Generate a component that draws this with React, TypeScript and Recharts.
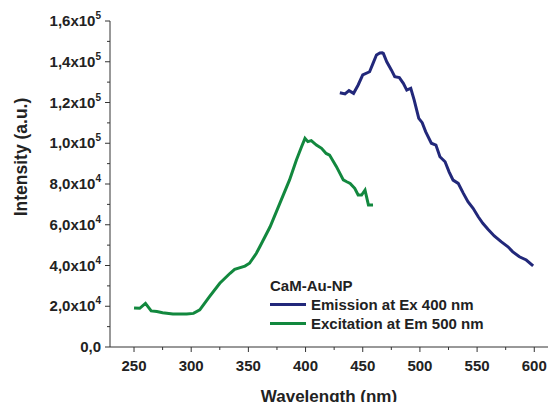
import { LineChart, Line, XAxis, YAxis } from 'recharts'

const FONT = '"Liberation Sans", Arial, sans-serif'
const BLUE = '#22287a'
const GREEN = '#12883e'

// Excitation spectrum (Em 500 nm)
const excitationWavelength = [
  250, 255, 260, 265, 270, 275, 284, 296, 302, 307.5, 316, 325, 334, 338, 347, 351, 357, 360, 369,
  377.5, 386, 392, 396.5, 399.5, 402, 405, 409.5, 414, 418, 421, 427, 433, 436, 439, 443, 446, 449,
  452, 455, 459,
]
const excitationIntensity = [
  19200, 19000, 21400, 17700, 17400, 16800, 16200, 16200, 16500, 18200, 24700, 31300, 36200, 38100,
  39700, 41100, 46000, 49200, 59000, 70500, 82000, 91800, 98300, 102400, 100800, 101300, 99100, 97500,
  95000, 94200, 88500, 82000, 81100, 80300, 77900, 74600, 74600, 77000, 69700, 69700,
]

// Emission spectrum (Ex 400 nm)
const emissionWavelength = [
  430, 434.5, 438, 442, 446, 450, 456, 459, 462, 465, 467, 468, 471, 475, 478, 482, 485.5, 488.5, 492,
  495, 499, 502, 505, 510, 514, 517.5, 522, 525.5, 529, 533.5, 538, 542, 546.5, 551, 555, 559.5, 565,
  571, 577, 581, 587, 593, 599,
]
const emissionIntensity = [
  124800, 124200, 125800, 124500, 128600, 133500, 135100, 139200, 143300, 144300, 144400, 144100,
  140000, 136000, 132700, 132200, 129400, 126100, 127000, 121200, 112200, 110100, 105700, 100000,
  99100, 93400, 90900, 86000, 81900, 80300, 75400, 71300, 68100, 63900, 60700, 57800, 54500, 51700,
  49200, 46800, 44300, 42700, 39800,
]

const xTicks = [250, 275, 300, 325, 350, 375, 400, 425, 450, 475, 500, 525, 550, 575, 600]
const xLabels = [250, 300, 350, 400, 450, 500, 550, 600]
const yTicks = [0, 10000, 20000, 30000, 40000, 50000, 60000, 70000, 80000, 90000, 100000, 110000, 120000, 130000, 140000, 150000, 160000]
const yLabels = [0, 20000, 40000, 60000, 80000, 100000, 120000, 140000, 160000]

const legendTitle = 'CaM-Au-NP'
const seriesNames = ['Emission at Ex 400 nm', 'Excitation at Em 500 nm']

const excitationData = excitationWavelength.map((x, i) => ({ x, y: excitationIntensity[i] }))
const emissionData = emissionWavelength.map((x, i) => ({ x, y: emissionIntensity[i] }))

/** 1,6x10^5 style label parts */
function sciParts(v: number): [string, string] {
  if (v === 0) return ['0,0', '']
  const exp = Math.floor(Math.log10(v))
  const mant = (v / Math.pow(10, exp)).toFixed(1).replace('.', ',')
  return [`${mant}x10`, String(exp)]
}

function XTick({ x, y, payload }: any) {
  const major = xLabels.includes(payload.value)
  return (
    <g>
      <line x1={x} x2={x} y1={y} y2={y + (major ? 5 : 3)} stroke="#333" strokeWidth={1} />
      {major && (
        <text x={x} y={y + 24} textAnchor="middle" fontFamily={FONT} fontWeight="bold" fontSize={15} fill="#222">
          {payload.value}
        </text>
      )}
    </g>
  )
}

function YTick({ x, y, payload }: any) {
  const major = yLabels.includes(payload.value)
  const [mant, exp] = sciParts(payload.value)
  return (
    <g>
      <line x1={x - (major ? 5 : 3)} x2={x} y1={y} y2={y} stroke="#333" strokeWidth={1} />
      {major && (
        <text x={x - 9} y={y + 5} textAnchor="end" fontFamily={FONT} fontWeight="bold" fontSize={15} fill="#222">
          {mant}
          {exp && (
            <tspan dy={-7} fontSize={10}>
              {exp}
            </tspan>
          )}
        </text>
      )}
    </g>
  )
}

// y title sits above the plot centre in the original, so place it by hand
function YTitle() {
  return (
    <text
      x={27}
      y={157}
      transform="rotate(-90 27 157)"
      textAnchor="middle"
      fontFamily={FONT}
      fontWeight="bold"
      fontSize={17.5}
      fill="#222"
    >
      Intensity (a.u.)
    </text>
  )
}

function LegendBox() {
  const colors = [BLUE, GREEN]
  return (
    <div
      style={{
        position: 'absolute',
        left: 270,
        top: 276,
        fontFamily: FONT,
        fontWeight: 'bold',
        fontSize: 15,
        color: '#222',
        lineHeight: '19px',
        whiteSpace: 'nowrap',
      }}
    >
      <div>{legendTitle}</div>
      {seriesNames.map((name, i) => (
        <div key={name} style={{ display: 'flex', alignItems: 'center' }}>
          <span style={{ display: 'inline-block', width: 36, height: 3, background: colors[i], marginRight: 5 }} />
          {name}
        </div>
      ))}
    </div>
  )
}

export default function App() {
  return (
    <div style={{ position: 'absolute', left: 0, top: 0, width: 555, height: 402, background: '#fff' }}>
      <LineChart width={555} height={402} margin={{ top: 21, right: 7, bottom: 0, left: 0 }}>
        <XAxis
          dataKey="x"
          type="number"
          domain={[229, 612]}
          allowDataOverflow
          ticks={xTicks}
          interval={0}
          tickSize={0}
          tickMargin={0}
          tickLine={false}
          tick={<XTick />}
          height={55}
          stroke="#333"
          label={{
            value: 'Wavelength (nm)',
            position: 'insideBottom',
            offset: 0,
            style: { fontFamily: FONT, fontWeight: 'bold', fontSize: 17, fill: '#222' },
          }}
        />
        <YAxis
          dataKey="y"
          type="number"
          domain={[0, 160000]}
          allowDataOverflow
          ticks={yTicks}
          interval={0}
          tickSize={0}
          tickMargin={0}
          tickLine={false}
          tick={<YTick />}
          width={110}
          stroke="#333"
          label={<YTitle />}
        />
        <Line
          data={emissionData}
          dataKey="y"
          name={seriesNames[0]}
          type="linear"
          stroke={BLUE}
          strokeWidth={3}
          dot={false}
          isAnimationActive={false}
        />
        <Line
          data={excitationData}
          dataKey="y"
          name={seriesNames[1]}
          type="linear"
          stroke={GREEN}
          strokeWidth={3}
          dot={false}
          isAnimationActive={false}
        />
      </LineChart>
      <LegendBox />
    </div>
  )
}
